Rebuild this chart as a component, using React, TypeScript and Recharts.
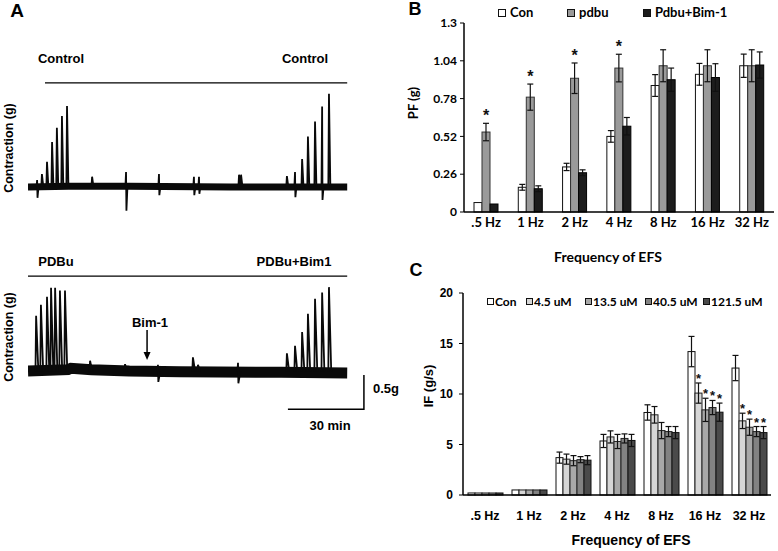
import React from "react";
import {
  Bar,
  BarChart,
  ErrorBar,
  Line,
  LineChart,
  ReferenceDot,
  ReferenceLine,
  XAxis,
  YAxis,
} from "recharts";

const ARIAL = "'Liberation Sans', Arial, sans-serif";
const LATO = "Lato, 'Open Sans', sans-serif";

// ---- Panel A: recorded traces (time in min, force in g above resting tone)
const trace1SpikeTimes = [3.6, 5.5, 7.5, 9.5, 11.4, 13.4, 15.4, 25.3, 38.7, 51.7, 65.5, 67.5, 83.3, 84.1, 102.2, 105.4, 108.2, 110.5, 113.3, 116.1, 118.8];
const trace1SpikePeaks = [0.1, 0.19, 0.37, 0.66, 0.87, 1.04, 1.19, 0.15, 0.22, 0.19, 0.15, 0.15, 0.18, 0.18, 0.16, 0.22, 0.41, 0.74, 0.96, 1.18, 1.37];
const trace1SpikeDips = [-0.16, 0, 0, 0, 0, 0, 0, 0, -0.35, -0.12, -0.12, -0.1, 0, 0, 0, -0.15, 0, 0, 0, -0.19, 0];
const trace1BaseTimes = [0, 16, 40, 80, 126];
const trace1BaseValues = [0.0, 0.01, 0.01, 0.0, 0.0];

const trace2SpikeTimes = [3.2, 5.1, 7.5, 9.1, 10.7, 12.6, 14.6, 24.5, 38.3, 51.3, 65.1, 67.1, 82.9, 102.2, 105.4, 108.2, 110.5, 113.3, 116.1, 118.8];
const trace2SpikePeaks = [0.87, 1.03, 1.15, 1.28, 1.28, 1.24, 1.24, 0.21, 0.16, 0.15, 0.26, 0.15, 0.18, 0.32, 0.43, 0.63, 0.9, 1.12, 1.21, 1.29];
const trace2SpikeDips = [0, 0, 0, 0, 0, 0, 0, 0, 0, -0.1, 0, 0, -0.12, 0, 0, 0, 0, 0, 0, 0];
const trace2BaseTimes = [0, 15.8, 17, 25, 40, 60, 100, 126];
const trace2BaseValues = [0.06, 0.08, 0.1, 0.08, 0.06, 0.05, 0.04, 0.03];

// scale bar: 30 min x 0.5 g
const scaleBarTimes = [102.6, 132.6, 132.6];
const scaleBarValues = [-0.5, -0.5, 0];

// ---- Panel B: PF (g)
const freqLabels = [".5 Hz", "1 Hz", "2 Hz", "4 Hz", "8 Hz", "16 Hz", "32 Hz"];
const pfCon = [0.065, 0.17, 0.31, 0.52, 0.87, 0.947, 1.006];
const pfConErr = [0, 0.02, 0.025, 0.04, 0.075, 0.075, 0.08];
const pfPdbu = [0.55, 0.79, 0.92, 0.99, 1.006, 1.006, 1.006];
const pfPdbuErr = [0.06, 0.09, 0.105, 0.095, 0.11, 0.11, 0.11];
const pfPdbuSig = ["*", "*", "*", "*", "", "", ""];
const pfBim = [0.055, 0.16, 0.27, 0.59, 0.91, 0.925, 1.011];
const pfBimErr = [0, 0.02, 0.02, 0.06, 0.08, 0.095, 0.09];
const pfTicks = [0, 0.26, 0.52, 0.78, 1.04, 1.3];

// ---- Panel C: IF (g/s)
const ifCon = [0.2, 0.5, 3.7, 5.35, 8.17, 14.2, 12.57];
const ifConErr = [0, 0, 0.55, 0.65, 0.76, 1.5, 1.25];
const if45 = [0.2, 0.5, 3.55, 5.75, 7.94, 10.09, 7.34];
const if45Err = [0, 0, 0.5, 0.6, 0.82, 1.0, 0.76];
const if135 = [0.2, 0.5, 3.4, 5.3, 6.38, 8.43, 6.71];
const if135Err = [0, 0, 0.5, 0.7, 0.8, 1.15, 0.8];
const if405 = [0.2, 0.5, 3.5, 5.6, 6.28, 8.66, 6.28];
const if405Err = [0, 0, 0.3, 0.45, 0.5, 0.7, 0.5];
const if1215 = [0.2, 0.5, 3.45, 5.4, 6.18, 8.2, 6.18];
const if1215Err = [0, 0, 0.45, 0.6, 0.6, 0.9, 0.6];
const ifSig = ["", "", "", "", "", "*", "*"];
const ifTicks = [0, 5, 10, 15, 20];

type Pt = { t: number; v: number | null };

function spikePoints(times: number[], peaks: number[], dips: number[], base: number, fall: number): Pt[] {
  const pts: Pt[] = [];
  times.forEach((t, i) => {
    pts.push({ t: t - 0.25, v: base });
    pts.push({ t, v: peaks[i] });
    if (dips[i]) pts.push({ t: t + 0.15, v: dips[i] });
    pts.push({ t: t + fall, v: base });
    pts.push({ t: t + fall + 0.01, v: null });
  });
  return pts;
}

const zip = (ts: number[], vs: number[]): Pt[] => ts.map((t, i) => ({ t, v: vs[i] }));

const trace1Spikes = spikePoints(trace1SpikeTimes, trace1SpikePeaks, trace1SpikeDips, 0, 0.55);
const trace2Spikes = spikePoints(trace2SpikeTimes, trace2SpikePeaks, trace2SpikeDips, 0.05, 0.9);
const trace1Base = zip(trace1BaseTimes, trace1BaseValues);
const trace2Base = zip(trace2BaseTimes, trace2BaseValues);
const scaleBar = zip(scaleBarTimes, scaleBarValues);

const pfRows = freqLabels.map((f, i) => ({
  f,
  con: pfCon[i],
  conErr: pfConErr[i],
  pdbu: pfPdbu[i],
  pdbuErr: pfPdbuErr[i],
  pdbuSig: pfPdbuSig[i],
  bim: pfBim[i],
  bimErr: pfBimErr[i],
}));

const ifRows = freqLabels.map((f, i) => ({
  f,
  con: ifCon[i],
  conErr: ifConErr[i],
  u45: if45[i],
  u45Err: if45Err[i],
  u135: if135[i],
  u135Err: if135Err[i],
  u405: if405[i],
  u405Err: if405Err[i],
  u1215: if1215[i],
  u1215Err: if1215Err[i],
  sig: ifSig[i],
}));

const pfSeries = [
  { key: "con", name: "Con", fill: "#ffffff", stroke: "#111", sig: "" },
  { key: "pdbu", name: "pdbu", fill: "#9a9a9a", stroke: "#333", sig: "pdbuSig" },
  { key: "bim", name: "Pdbu+Bim-1", fill: "#1c1c1c", stroke: "#000", sig: "" },
];

const ifSeries = [
  { key: "con", name: "Con", fill: "#ffffff", stroke: "#111", sig: "" },
  { key: "u45", name: "4.5 uM", fill: "#d6d6d6", stroke: "#222", sig: "sig" },
  { key: "u135", name: "13.5 uM", fill: "#a8a8a8", stroke: "#222", sig: "sig" },
  { key: "u405", name: "40.5 uM", fill: "#828282", stroke: "#222", sig: "sig" },
  { key: "u1215", name: "121.5 uM", fill: "#4a4a4a", stroke: "#111", sig: "sig" },
];

function Txt({
  x,
  y,
  children,
  size = 13,
  font = ARIAL,
  rotate = 0,
}: {
  x: number;
  y: number;
  children: React.ReactNode;
  size?: number;
  font?: string;
  rotate?: number;
}) {
  return (
    <div
      style={{
        position: "absolute",
        left: x,
        top: y,
        transform: `translate(-50%, -50%) rotate(${rotate}deg)`,
        fontFamily: font,
        fontWeight: 700,
        fontSize: size,
        lineHeight: 1,
        whiteSpace: "nowrap",
        color: "#000",
      }}
    >
      {children}
    </div>
  );
}

// bar rectangle that also prints the significance star above the error bar
function starBar(valueKey: string, sigKey: string, fill: string, stroke: string, gap: number, font: string, size: number) {
  return (p: any) => {
    const { x, y, width, height, payload } = p;
    const v = payload[valueKey];
    const e = payload[`${valueKey}Err`] ?? 0;
    const errPx = v ? (height / v) * e : 0;
    const sig = sigKey ? payload[sigKey] : "";
    return (
      <g>
        <rect x={x} y={y} width={width} height={height} fill={fill} stroke={stroke} strokeWidth={1} />
        {sig ? (
          <text x={x + width / 2} y={y - errPx - gap} textAnchor="middle" fontFamily={font} fontWeight={700} fontSize={size} fill="#111">
            {sig}
          </text>
        ) : null}
      </g>
    );
  };
}

function Trace({
  top,
  height,
  yDomain,
  base,
  baseWidth,
  spikes,
  children,
}: {
  top: number;
  height: number;
  yDomain: [number, number];
  base: Pt[];
  baseWidth: number;
  spikes: Pt[];
  children?: React.ReactNode;
}) {
  return (
    <div style={{ position: "absolute", left: 28, top }}>
      <LineChart width={342} height={height} margin={{ top: 0, right: 0, bottom: 0, left: 0 }}>
        <XAxis type="number" dataKey="t" domain={[0, 135]} hide allowDataOverflow />
        <YAxis type="number" domain={yDomain} hide allowDataOverflow />
        <Line data={base} dataKey="v" stroke="#0a0a0a" strokeWidth={baseWidth} dot={false} strokeLinecap="butt" isAnimationActive={false} />
        <Line data={spikes} dataKey="v" stroke="#0a0a0a" strokeWidth={1.8} dot={false} isAnimationActive={false} />
        {children}
      </LineChart>
    </div>
  );
}

export default function App() {
  return (
    <div style={{ position: "absolute", left: 0, top: 0, width: 778, height: 551, background: "#fff", overflow: "hidden" }}>
      {/* Panel A */}
      <Txt x={17} y={10} size={19}>A</Txt>
      <Txt x={61} y={58}>Control</Txt>
      <Txt x={305} y={58}>Control</Txt>
      <Txt x={9} y={148} size={12.5} rotate={-90}>Contraction (g)</Txt>
      <Trace top={78} height={143} yDomain={[-0.5, 1.6]} base={trace1Base} baseWidth={7} spikes={trace1Spikes}>
        <ReferenceLine segment={[{ x: 6.7, y: 1.527 }, { x: 126, y: 1.527 }]} stroke="#000" strokeWidth={1.2} />
      </Trace>

      <Txt x={56} y={261}>PDBu</Txt>
      <Txt x={294} y={261}>PDBu+Bim1</Txt>
      <Txt x={9} y={337} size={12.5} rotate={-90}>Contraction (g)</Txt>
      <Txt x={150} y={322}>Bim-1</Txt>
      <Trace top={266} height={150} yDomain={[-0.6, 1.6]} base={trace2Base} baseWidth={11} spikes={trace2Spikes}>
        <ReferenceLine segment={[{ x: 0, y: 1.452 }, { x: 126, y: 1.452 }]} stroke="#000" strokeWidth={1.2} />
        <Line data={scaleBar} dataKey="v" stroke="#000" strokeWidth={1.5} dot={false} isAnimationActive={false} />
        <ReferenceLine segment={[{ x: 47, y: 0.66 }, { x: 47, y: 0.3 }]} stroke="#000" strokeWidth={1.5} />
        <ReferenceDot
          x={47}
          y={0.22}
          shape={(p: any) => <path d={`M${p.cx - 3.5},${p.cy - 8} L${p.cx + 3.5},${p.cy - 8} L${p.cx},${p.cy} Z`} fill="#000" />}
        />
      </Trace>
      <Txt x={386} y={388}>0.5g</Txt>
      <Txt x={330} y={425}>30 min</Txt>

      {/* Panel B */}
      <Txt x={415} y={9} size={18}>B</Txt>
      <div style={{ position: "absolute", left: 390, top: 0 }}>
        <BarChart width={388} height={270} data={pfRows} barSize={8} barGap={0} margin={{ top: 23, right: 4, bottom: 28, left: 24 }}>
          <XAxis
            dataKey="f"
            interval={0}
            tickLine={false}
            tickMargin={0}
            height={30}
            axisLine={{ stroke: "#000", strokeWidth: 1.5 }}
            tick={{ fontSize: 13, fontFamily: LATO, fontWeight: 700, fill: "#000" }}
          />
          <YAxis
            domain={[0, 1.3]}
            ticks={pfTicks}
            width={50}
            tickSize={4}
            tickMargin={3}
            axisLine={{ stroke: "#000", strokeWidth: 1.5 }}
            tickLine={{ stroke: "#000" }}
            tick={{ fontSize: 12, fontFamily: LATO, fontWeight: 700, fill: "#000" }}
          />
          {pfSeries.map((s) => (
            <Bar
              key={s.key}
              dataKey={s.key}
              fill={s.fill}
              isAnimationActive={false}
              shape={starBar(s.key, s.sig, s.fill, s.stroke, 2, ARIAL, 16)}
            >
              <ErrorBar dataKey={`${s.key}Err`} width={3} stroke="#111" strokeWidth={1.2} />
            </Bar>
          ))}
        </BarChart>
      </div>
      {pfSeries.map((s, i) => {
        const sx = [498, 567, 643][i];
        return (
          <div key={s.key} style={{ position: "absolute", left: sx, top: 6, display: "flex", alignItems: "center", gap: 4 }}>
            <span style={{ width: 6, height: 6, background: s.fill, border: "1px solid #111", display: "inline-block" }} />
            <span style={{ fontFamily: LATO, fontWeight: 700, fontSize: 13, lineHeight: "13px" }}>{s.name}</span>
          </div>
        );
      })}
      <Txt x={608} y={257} font={LATO} size={14}>Frequency of EFS</Txt>
      <Txt x={413} y={103} font={LATO} size={13} rotate={-90}>PF (g)</Txt>

      {/* Panel C */}
      <Txt x={416} y={270} size={18}>C</Txt>
      <div style={{ position: "absolute", left: 390, top: 270 }}>
        <BarChart width={388} height={281} data={ifRows} barSize={7} barGap={0} margin={{ top: 23, right: 7, bottom: 26, left: 28 }}>
          <XAxis
            dataKey="f"
            interval={0}
            tickLine={false}
            tickMargin={10}
            height={30}
            axisLine={{ stroke: "#000", strokeWidth: 1.5 }}
            tick={{ fontSize: 12.5, fontFamily: ARIAL, fontWeight: 700, fill: "#000" }}
          />
          <YAxis
            domain={[0, 20]}
            ticks={ifTicks}
            width={45}
            tickSize={4}
            tickMargin={6}
            axisLine={{ stroke: "#000", strokeWidth: 1.5 }}
            tickLine={{ stroke: "#000" }}
            tick={{ fontSize: 12, fontFamily: ARIAL, fontWeight: 700, fill: "#000" }}
          />
          {ifSeries.map((s) => (
            <Bar
              key={s.key}
              dataKey={s.key}
              fill={s.fill}
              isAnimationActive={false}
              shape={starBar(s.key, s.sig, s.fill, s.stroke, 0, ARIAL, 13)}
            >
              <ErrorBar dataKey={`${s.key}Err`} width={3} stroke="#111" strokeWidth={1.2} />
            </Bar>
          ))}
        </BarChart>
      </div>
      {ifSeries.map((s, i) => {
        const sx = [487, 526, 585, 645, 703][i];
        return (
          <div key={s.key} style={{ position: "absolute", left: sx, top: 295, display: "flex", alignItems: "center", gap: 1 }}>
            <span style={{ width: 5, height: 5, background: s.fill, border: "1px solid #111", display: "inline-block" }} />
            <span style={{ fontFamily: LATO, fontWeight: 700, fontSize: 12, lineHeight: "13px" }}>{s.name}</span>
          </div>
        );
      })}
      <Txt x={631} y={540} size={14}>Frequency of EFS</Txt>
      <Txt x={428} y={386} size={13} rotate={-90}>IF (g/s)</Txt>
    </div>
  );
}
